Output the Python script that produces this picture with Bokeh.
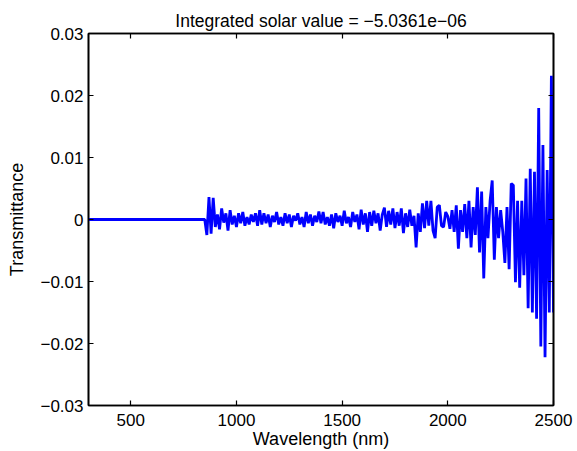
import numpy as np
from bokeh.plotting import figure
from bokeh.models import Range1d, FixedTicker, LinearAxis, Title
from bokeh.embed import file_html
from bokeh.resources import INLINE

# ---- data ----
wavelength = list(range(300, 2501, 10))
flat_part = [0.0] * 56  # 300..850 nm
noise_part = [
    -0.0025, 0.0036, -0.0023, 0.0035, -0.0012, 0.0008, -0.0016, 0.0018, -0.0005, 0.0010,   # 860-950
    -0.0018, 0.0015, -0.0008, 0.0006, -0.0012, 0.0010, -0.0006, 0.0012, -0.0010, 0.0004,   # 960-1050
    -0.0008, 0.0008, -0.0004, 0.0010, -0.0010, 0.0015, -0.0008, 0.0010, -0.0006, 0.0008,   # 1060-1150
    -0.0012, 0.0006, -0.0004, 0.0012, -0.0008, 0.0004, -0.0010, 0.0010, -0.0006, 0.0008,   # 1160-1250
    -0.0012, 0.0006, -0.0002, 0.0010, -0.0008, 0.0004, -0.0012, 0.0012, -0.0006, 0.0008,   # 1260-1350
    -0.0010, 0.0006, -0.0004, 0.0013, -0.0006, 0.0012, -0.0008, 0.0004, -0.0010, 0.0008,   # 1360-1450
    -0.0014, 0.0010, -0.0004, 0.0006, -0.0010, 0.0014, -0.0006, 0.0004, -0.0012, 0.0012,   # 1460-1550
    -0.0004, 0.0008, -0.0016, 0.0016, -0.0008, 0.0010, -0.0020, 0.0012, -0.0010, 0.0014,   # 1560-1650
    -0.0006, 0.0010, -0.0018, 0.0008, 0.0019, -0.0012, 0.0014, -0.0008, 0.0018, -0.0014,   # 1660-1750
    0.0012, -0.0010, 0.0018, -0.0022, 0.0010, -0.0012, 0.0016, -0.0010, 0.0006, -0.0045,   # 1760-1850
    0.0010, -0.0020, 0.0026, -0.0014, 0.0030, -0.0010, 0.0030, -0.0018, -0.0030, 0.0020,   # 1860-1950
    0.0023, -0.0010, -0.0012, 0.0012, 0.0005, -0.0015, 0.0015, -0.0020, 0.0023, -0.0047,   # 1960-2050
    0.0015, -0.0020, 0.0025, -0.0030, 0.0030, -0.0045, 0.0020, -0.0025, 0.0052, -0.0053,   # 2060-2150
    0.0045, -0.0095, 0.0020, -0.0030, 0.0030, 0.0063, -0.0065, 0.0020, -0.0030, 0.0015,   # 2160-2250
    -0.0020, -0.0070, 0.0020, -0.0080, 0.0058, 0.0055, -0.0101, 0.0030, -0.0110, 0.0030,   # 2260-2350
    -0.0090, 0.0066, -0.0143, 0.0082, -0.0150, 0.0077, -0.0160, 0.0180, -0.0205, 0.0120,   # 2360-2450
    -0.0222, 0.0080, -0.0150, 0.0232, -0.0150,                                             # 2460-2500
]
transmittance = flat_part + noise_part

x_ticks = [500, 1000, 1500, 2000, 2500]
y_ticks = [-0.03, -0.02, -0.01, 0, 0.01, 0.02, 0.03]
y_tick_labels = ["\u22120.03", "\u22120.02", "\u22120.01", "0", "0.01", "0.02", "0.03"]
title_text = "Integrated solar value = \u22125.0361e\u221206"

FONT = "Liberation Sans"

p = figure(width=577, height=451, output_backend="svg", toolbar_location=None,
           x_range=Range1d(300, 2500), y_range=Range1d(-0.03, 0.03),
           min_border_left=88, min_border_right=24, min_border_top=33, min_border_bottom=45)
p.title = Title(text=title_text, align="center", text_font=FONT, text_font_size="17.5px",
                text_font_style="normal", text_color="black", standoff=6)
p.background_fill_color = "white"
p.border_fill_color = "white"
p.outline_line_color = "black"
p.outline_line_width = 1.6
p.xgrid.visible = False
p.ygrid.visible = False

p.line(wavelength, transmittance, line_color="#0000ff", line_width=2.8)

def style_axis(ax, show_labels=True):
    ax.axis_line_color = "black"
    ax.axis_line_width = 1.6
    ax.major_tick_in = 5
    ax.major_tick_out = 0
    ax.major_tick_line_width = 1.2
    ax.minor_tick_line_color = None
    ax.major_tick_line_color = "black"
    ax.major_label_text_font = FONT
    ax.major_label_text_font_size = "17px"
    ax.major_label_text_color = "black" if show_labels else None
    ax.axis_label_text_font = FONT
    ax.axis_label_text_font_size = "18px"
    ax.axis_label_text_font_style = "normal"
    ax.axis_label_text_color = "black"

xa = p.xaxis[0]
xa.ticker = FixedTicker(ticks=x_ticks)
xa.axis_label = "Wavelength (nm)"
xa.axis_label_standoff = 0
xa.major_label_standoff = 8
style_axis(xa)

ya = p.yaxis[0]
ya.ticker = FixedTicker(ticks=y_ticks)
ya.major_label_overrides = {t: l for t, l in zip(y_ticks, y_tick_labels)}
ya.axis_label = "Transmittance"
ya.axis_label_standoff = 10
ya.major_label_standoff = 5
style_axis(ya)

top = LinearAxis(ticker=FixedTicker(ticks=x_ticks))
style_axis(top, show_labels=False)
p.add_layout(top, "above")
right = LinearAxis(ticker=FixedTicker(ticks=y_ticks))
style_axis(right, show_labels=False)
p.add_layout(right, "right")

open("out.html", "w").write(file_html(p, INLINE))
